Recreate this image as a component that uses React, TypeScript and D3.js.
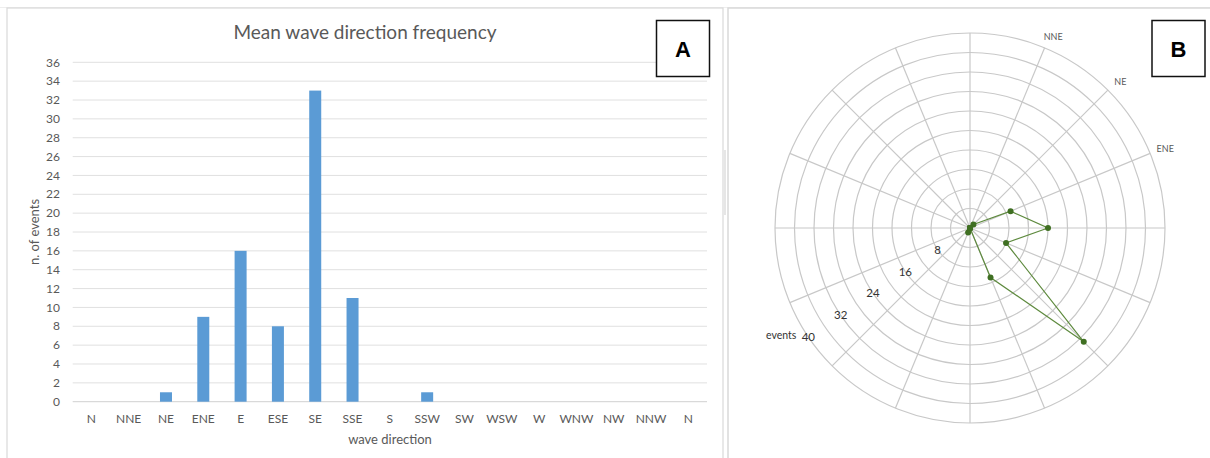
import React from "react";
import * as d3 from "d3";

const categories = ["N","NNE","NE","ENE","E","ESE","SE","SSE","S","SSW","SW","WSW","W","WNW","NW","NNW","N"];
const counts = [0,0,1,9,16,8,33,11,0,1,0,0,0,0,0,0,0];
const yTicks = d3.range(0, 37, 2);

const radarCategories = ["N","NNE","NE","ENE","E","ESE","SE","SSE","S","SSW","SW","WSW","W","WNW","NW","NNW"];
const radarCounts = [0,0,1,9,16,8,33,11,0,1,0,0,0,0,0,0];
const radarRings = d3.range(4, 41, 4);
const radarAxisLabels = [8,16,24,32,40];
const radarShownLabels = ["NNE","NE","ENE"];

const FONT = "Lato, 'Open Sans', sans-serif";
const TXT = "#595959";

export default function App() {
  // Panel A
  const x = d3.scaleBand<number>().domain(d3.range(categories.length)).range([72.7, 707]).paddingInner(0).paddingOuter(0);
  const y = d3.scaleLinear().domain([0, 36]).range([401.7, 62.3]);
  const barW = 12;

  // Panel B
  const cx = 970, cy = 228;
  const r = d3.scaleLinear().domain([0, 40]).range([0, 195]);
  const n = radarCategories.length;
  const ang = (i: number) => (i * 2 * Math.PI) / n; // from north, clockwise
  const pt = (i: number, v: number): [number, number] => [cx + r(v) * Math.sin(ang(i)), cy - r(v) * Math.cos(ang(i))];
  const radarPts = radarCounts.map((v, i) => pt(i, v));
  const line = d3.line<[number, number]>().curve(d3.curveLinearClosed);
  const labelAng = (236 * Math.PI) / 180;

  return (
    <svg width={1210} height={458} style={{ position: "absolute", left: 0, top: 0, background: "#fff" }}>
      {/* top faint strip */}
      <line x1={0} x2={1210} y1={7.5} y2={7.5} stroke="#eeeeee" />
      {/* Panel borders */}
      <rect x={7} y={8} width={716} height={460} fill="#fff" stroke="#d9d9d9" strokeWidth={1.2} />
      <rect x={728} y={8} width={500} height={460} fill="#fff" stroke="#d9d9d9" strokeWidth={1.5} />
      <rect x={724} y={150} width={2} height={65} fill="#e6e6e6" />

      {/* Panel A */}
      <text x={365} y={39} textAnchor="middle" fontFamily={FONT} fontSize={19} fill={TXT}>Mean wave direction frequency</text>
      {yTicks.map((t) => (
        <g key={t}>
          <line x1={72.7} x2={707} y1={y(t)} y2={y(t)} stroke={t === 0 ? "#d0d0d0" : "#e0e0e0"} strokeWidth={1} />
          <text x={60} y={y(t)} dy="0.35em" textAnchor="end" fontFamily={FONT} fontSize={12} fill={TXT}>{t}</text>
        </g>
      ))}
      {counts.map((v, i) => (
        v > 0 ? (
          <rect key={i} x={x(i)! + x.bandwidth() / 2 - barW / 2} y={y(v)} width={barW} height={y(0) - y(v)} fill="#5B9BD5" />
        ) : null
      ))}
      {categories.map((c, i) => (
        <text key={i} x={x(i)! + x.bandwidth() / 2} y={423} textAnchor="middle" fontFamily={FONT} fontSize={12} fill={TXT}>{c}</text>
      ))}
      <text x={390} y={444} textAnchor="middle" fontFamily={FONT} fontSize={13} fill={TXT}>wave direction</text>
      <text transform="translate(39,232) rotate(-90)" textAnchor="middle" fontFamily={FONT} fontSize={13} fill={TXT}>n. of events</text>

      <rect x={656.5} y={20.5} width={53} height={56} fill="#fff" stroke="#111" strokeWidth={1.5} />
      <text x={683} y={57} textAnchor="middle" fontFamily="'Liberation Sans', Arial, sans-serif" fontWeight="bold" fontSize={22} fill="#000">A</text>

      {/* Panel B */}
      {radarRings.map((v) => (
        <circle key={v} cx={cx} cy={cy} r={r(v)} fill="none" stroke="#c8c8c8" strokeWidth={1.2} />
      ))}
      {radarCategories.map((c, i) => {
        const [px, py] = pt(i, 40);
        return <line key={i} x1={cx} y1={cy} x2={px} y2={py} stroke="#c8c8c8" strokeWidth={1.2} />;
      })}
      {radarShownLabels.map((c) => {
        const i = radarCategories.indexOf(c);
        const a = ang(i);
        const rr = r(40) + 12;
        const lx = cx + rr * Math.sin(a) + 4;
        const ly = cy - rr * Math.cos(a);
        return <text key={c} x={lx} y={ly} dy="0.35em" textAnchor="middle" fontFamily={FONT} fontSize={9} fill={TXT}>{c}</text>;
      })}
      {radarAxisLabels.map((v) => (
        <text key={v} x={cx + r(v) * Math.sin(labelAng)} y={cy - r(v) * Math.cos(labelAng)} dy="0.35em" textAnchor="middle" fontFamily={FONT} fontSize={11.5} fill="#333">{v}</text>
      ))}
      <text x={cx + r(40) * Math.sin(labelAng) - 12} y={cy - r(40) * Math.cos(labelAng) - 2} dy="0.35em" textAnchor="end" fontFamily={FONT} fontSize={10.5} fill="#333">events</text>

      <path d={line(radarPts) || ""} fill="none" stroke="#5E8A3E" strokeWidth={1.2} />
      {radarPts.map((p, i) => (
        <circle key={i} cx={p[0]} cy={p[1]} r={3} fill="#3F6F22" />
      ))}

      <rect x={1152} y={20.5} width={53} height={56} fill="#fff" stroke="#111" strokeWidth={1.5} />
      <text x={1178.5} y={57} textAnchor="middle" fontFamily="'Liberation Sans', Arial, sans-serif" fontWeight="bold" fontSize={22} fill="#000">B</text>
    </svg>
  );
}
